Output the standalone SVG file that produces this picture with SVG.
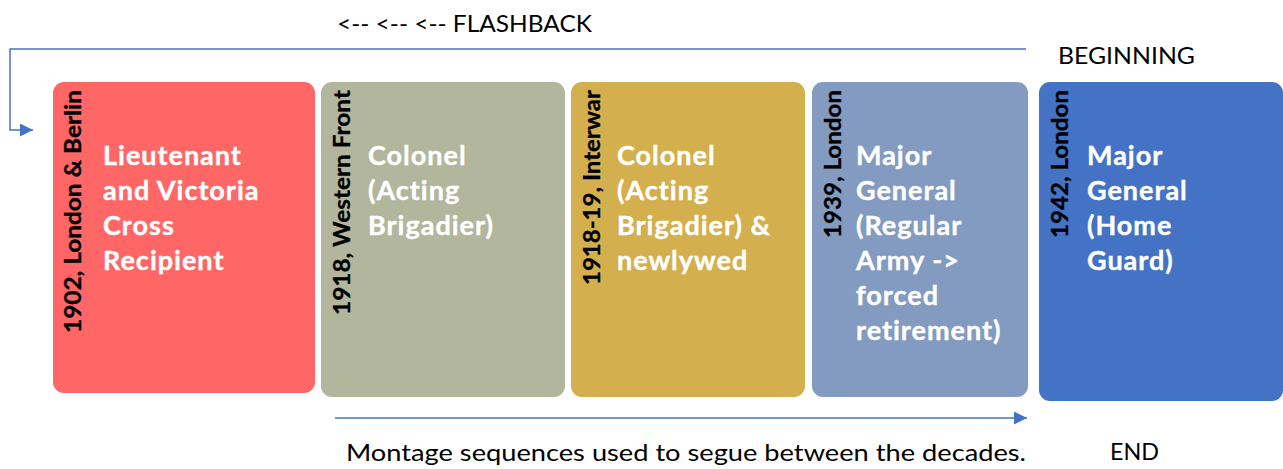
<svg xmlns="http://www.w3.org/2000/svg" width="1283" height="469" viewBox="0 0 1283 469">
<style>
.lbl{font-family:Lato,"Open Sans","Liberation Sans",sans-serif;font-size:23px;fill:#000}
.title{font-family:Lato,"Open Sans","Liberation Sans",sans-serif;font-size:27px;font-weight:bold;letter-spacing:1px;fill:#fff;stroke:#fff;stroke-width:0.4}
.date{font-family:Lato,"Open Sans","Liberation Sans",sans-serif;font-size:22px;font-weight:bold;fill:#000;stroke:#000;stroke-width:0.3}
.conn{stroke:#4472C4;stroke-width:1.5;fill:none}
</style>
<defs>
<marker id="ah2" viewBox="0 0 10 10" refX="10" refY="5" markerWidth="13" markerHeight="13" markerUnits="userSpaceOnUse" orient="auto">
<path d="M0,0 L10,5 L0,10 Z" fill="#4472C4"/>
</marker>
</defs>
<rect width="1283" height="469" fill="#fff"/>
<g id="connectors">
<path class="conn" d="M1026,49 L10,49 L10,130 L33,130" marker-end="url(#ah2)"/>
<path class="conn" d="M335,418 L1027,418" marker-end="url(#ah2)"/>
</g>
<g id="labels">
<text class="lbl" x="337" y="32" textLength="255" lengthAdjust="spacingAndGlyphs">&lt;-- &lt;-- &lt;-- FLASHBACK</text>
<text class="lbl" x="1058" y="64" textLength="137" lengthAdjust="spacingAndGlyphs">BEGINNING</text>
<text class="lbl" x="346" y="461" textLength="680" lengthAdjust="spacingAndGlyphs">Montage sequences used to segue between the decades.</text>
<text class="lbl" x="1110" y="460" textLength="49" lengthAdjust="spacingAndGlyphs">END</text>
</g>
<g id="node1">
<rect x="53" y="82" width="262" height="311" rx="11" fill="#FF6666"/>
<text class="date" transform="translate(81,90) rotate(-90)" text-anchor="end" textLength="243" lengthAdjust="spacingAndGlyphs">1902, London &amp; Berlin</text>
<text class="title" x="103" y="165">Lieutenant</text>
<text class="title" x="103" y="200">and Victoria</text>
<text class="title" x="103" y="235">Cross</text>
<text class="title" x="103" y="270">Recipient</text>
</g>
<g id="node2">
<rect x="321" y="82" width="244" height="315" rx="11" fill="#B2B69D"/>
<text class="date" transform="translate(350,90) rotate(-90)" text-anchor="end" textLength="225" lengthAdjust="spacingAndGlyphs">1918, Western Front</text>
<text class="title" x="368" y="165">Colonel</text>
<text class="title" x="368" y="200">(Acting</text>
<text class="title" x="368" y="235">Brigadier)</text>
</g>
<g id="node3">
<rect x="571" y="82" width="234" height="315" rx="11" fill="#D4AF4D"/>
<text class="date" transform="translate(600,90) rotate(-90)" text-anchor="end" textLength="195" lengthAdjust="spacingAndGlyphs">1918-19, Interwar</text>
<text class="title" x="617" y="165">Colonel</text>
<text class="title" x="617" y="200">(Acting</text>
<text class="title" x="617" y="235">Brigadier) &amp;</text>
<text class="title" x="617" y="270">newlywed</text>
</g>
<g id="node4">
<rect x="812" y="82" width="216" height="315" rx="11" fill="#839BC1"/>
<text class="date" transform="translate(841,90) rotate(-90)" text-anchor="end" textLength="148" lengthAdjust="spacingAndGlyphs">1939, London</text>
<text class="title" x="856" y="165">Major</text>
<text class="title" x="856" y="200">General</text>
<text class="title" x="856" y="235">(Regular</text>
<text class="title" x="856" y="270">Army -&gt;</text>
<text class="title" x="856" y="305">forced</text>
<text class="title" x="856" y="340">retirement)</text>
</g>
<g id="node5">
<rect x="1039" y="82" width="244" height="319" rx="11" fill="#4472C4"/>
<text class="date" transform="translate(1068,90) rotate(-90)" text-anchor="end" textLength="148" lengthAdjust="spacingAndGlyphs">1942, London</text>
<text class="title" x="1087" y="165">Major</text>
<text class="title" x="1087" y="200">General</text>
<text class="title" x="1087" y="235">(Home</text>
<text class="title" x="1087" y="270">Guard)</text>
</g>
</svg>
